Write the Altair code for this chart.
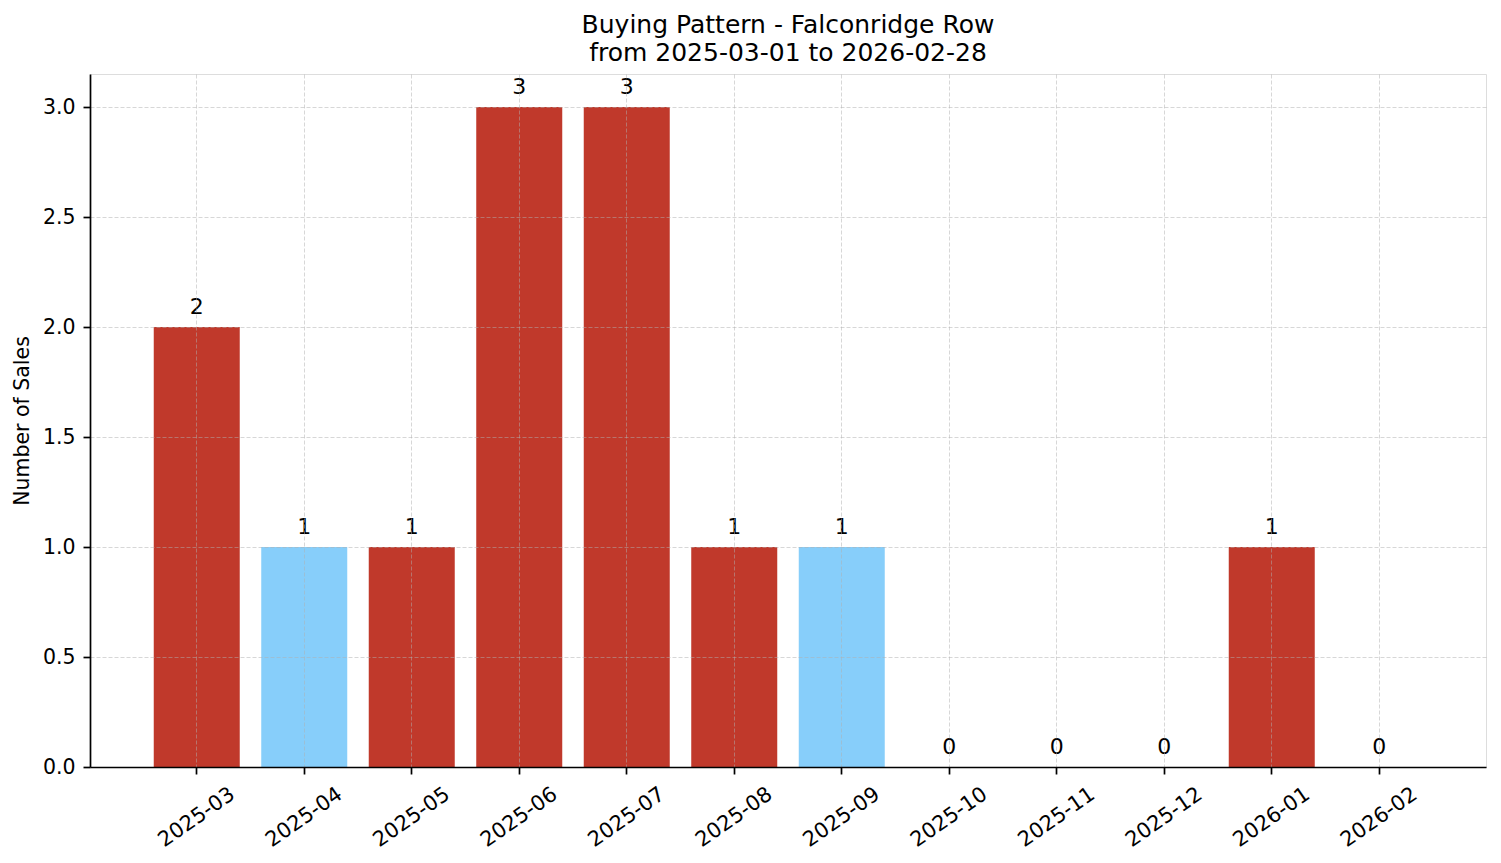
import altair as alt
import pandas as pd

months = ["2025-03", "2025-04", "2025-05", "2025-06", "2025-07", "2025-08",
          "2025-09", "2025-10", "2025-11", "2025-12", "2026-01", "2026-02"]
sales = [2, 1, 1, 3, 3, 1, 1, 0, 0, 0, 1, 0]
group = ["A", "B", "A", "A", "A", "A", "B", "A", "A", "A", "A", "A"]

df = pd.DataFrame({"month": months, "sales": sales, "group": group})

FONT = "DejaVu Sans"

x_enc = alt.X(
    "month:N", sort=months, title=None,
    scale=alt.Scale(paddingInner=0.2, paddingOuter=0.593),
    axis=alt.Axis(
        labelAngle=325, labelAlign="right", labelBaseline="middle",
        labelOffset=36, labelPadding=18, labelFontSize=21, labelFont=FONT,
        labelColor="#000000", tickSize=7, tickWidth=1.7, tickColor="#000000",
        domainColor="#000000", domainWidth=1.7, grid=True, gridDash=[4, 2],
        gridColor="#b0b0b0", gridOpacity=0.5, gridWidth=1, bandPosition=0.5,
        zindex=1,
    ),
)

y_scale = alt.Scale(domain=[0, 3.15], nice=False)

bars = alt.Chart(df).mark_bar().encode(
    x=x_enc,
    y=alt.Y(
        "sales:Q", scale=y_scale, title="Number of Sales",
        axis=alt.Axis(
            values=[0, 0.5, 1, 1.5, 2, 2.5, 3], format=".1f",
            labelFontSize=20.5, labelFont=FONT, labelColor="#000000",
            labelPadding=8, tickSize=7, tickWidth=1.7, tickColor="#000000",
            domainColor="#000000", domainWidth=1.7, grid=True,
            gridDash=[4, 2], gridColor="#b0b0b0", gridOpacity=0.5,
            gridWidth=1, titleFontSize=20.5, titleFont=FONT,
            titleFontWeight="normal", titleColor="#000000", titlePadding=10,
            zindex=1,
        ),
    ),
    color=alt.Color("group:N", scale=alt.Scale(domain=["A", "B"],
                    range=["#c0392b", "#87cefa"]), legend=None),
)

labels = alt.Chart(df).mark_text(
    baseline="bottom", dy=-8, fontSize=22, font=FONT, color="#000000"
).encode(
    x=alt.X("month:N", sort=months),
    y=alt.Y("sales:Q", scale=y_scale),
    text=alt.Text("sales:Q"),
)

chart = alt.layer(bars, labels).properties(
    width=1396,
    height=693,
    title=alt.TitleParams(
        text=["Buying Pattern - Falconridge Row", "from 2025-03-01 to 2026-02-28"],
        fontSize=25, font=FONT, fontWeight="normal", color="#000000",
        anchor="middle", lineHeight=28, offset=8,
    ),
    autosize=alt.AutoSizeParams(type="none"),
    padding={"left": 82, "top": 66, "right": 7, "bottom": 88},
).configure_view(stroke=None).configure(background="white")

chart.save("out.html", embed_options={"renderer": "svg", "actions": False})
